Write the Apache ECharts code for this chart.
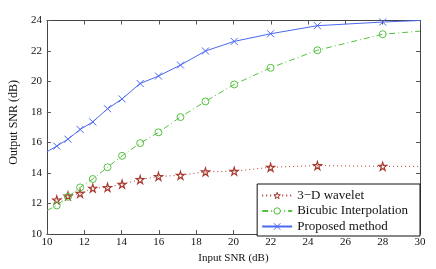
<!DOCTYPE html>
<html><head><meta charset="utf-8">
<script src="https://cdn.jsdelivr.net/npm/echarts@6/dist/echarts.min.js"></script>
<style>html,body{margin:0;padding:0;background:#fff}#c{width:436px;height:269px}</style>
</head><body><div id="c"></div>
<script>
const inputSNR = [10.53, 11.13, 11.78, 12.46, 13.25, 14.03, 15.0, 15.98, 17.16, 18.5, 20.04, 21.99, 24.5, 28.0];
const wavelet = [12.24, 12.5, 12.67, 13.01, 13.06, 13.27, 13.57, 13.78, 13.85, 14.08, 14.12, 14.38, 14.49, 14.44];
const bicubic = [11.88, 12.44, 13.06, 13.61, 14.38, 15.13, 15.96, 16.67, 17.67, 18.7, 19.81, 20.9, 22.05, 23.1];
const proposed = [15.77, 16.22, 16.86, 17.35, 18.22, 18.86, 19.87, 20.36, 21.08, 22.0, 22.63, 23.13, 23.66, 23.9];
// curve ends (no marker) at x = 10 and x = 30
const waveletEnds = [null, 14.44];
const bicubicEnds = [11.54, 23.3];
const proposedEnds = [15.4, 24.0];
const xTicks = [10, 30, 2];
const yTicks = [10, 24, 2];
const seriesNames = ['3\u2212D wavelet', 'Bicubic Interpolation', 'Proposed method'];

function build(ys, ends) {
  const d = [];
  if (ends[0] !== null) d.push({ value: [xTicks[0], ends[0]], symbol: 'none' });
  inputSNR.forEach((x, i) => d.push([x, ys[i]]));
  if (ends[1] !== null) d.push({ value: [xTicks[1], ends[1]], symbol: 'none' });
  return d;
}

const FONT = 'Liberation Serif';
const RED = '#a83a30', GREEN = '#55c040', BLUE = '#4a68f0';
const COLORS = [RED, GREEN, BLUE];
const starPath = 'path://M50,0L61,35L98,35L68,57L79,91L50,70L21,91L32,57L2,35L39,35Z';
const xPath = 'path://M0,0L10,10M10,0L0,10';

const chart = echarts.init(document.getElementById('c'), null, { renderer: 'canvas' });
const axisCommon = {
  type: 'value',
  splitLine: { show: false },
  axisLine: { show: true, lineStyle: { color: '#444', width: 1 } },
  axisTick: { show: true, inside: true, length: 4, lineStyle: { color: '#555' } },
};
chart.setOption({
  animation: false,
  textStyle: { fontFamily: FONT },
  grid: { left: 41, right: 16, top: 20.5, bottom: 30, show: false },
  xAxis: [
    Object.assign({}, axisCommon, {
      min: xTicks[0], max: xTicks[1], interval: xTicks[2],
      name: 'Input SNR (dB)', nameLocation: 'middle', nameGap: 14,
      nameTextStyle: { fontFamily: FONT, fontSize: 11, color: '#111' },
      axisLabel: { fontFamily: FONT, fontSize: 11, color: '#111', margin: 3 },
    }),
    Object.assign({}, axisCommon, {
      position: 'top', min: xTicks[0], max: xTicks[1], interval: xTicks[2],
      axisLabel: { show: false },
    }),
  ],
  yAxis: [
    Object.assign({}, axisCommon, {
      min: yTicks[0], max: yTicks[1], interval: yTicks[2],
      name: 'Output SNR (dB)', nameLocation: 'middle', nameGap: 16,
      nameTextStyle: { fontFamily: FONT, fontSize: 12, color: '#111', padding: [0, 0, 0, 10] },
      axisLabel: { fontFamily: FONT, fontSize: 11, color: '#111', margin: 5 },
    }),
    Object.assign({}, axisCommon, {
      position: 'right', min: yTicks[0], max: yTicks[1], interval: yTicks[2],
      axisLabel: { show: false },
    }),
  ],
  legend: {
    orient: 'vertical', right: 16, top: 184,
    backgroundColor: '#fff', borderColor: '#111', borderWidth: 1,
    padding: [5, 12, 3, 4], itemWidth: 30, itemHeight: 8, itemGap: 2.5,
    textStyle: { fontFamily: FONT, fontSize: 13, color: '#111' },
    data: seriesNames.map((n, i) => ({
      name: n,
      itemStyle: { color: '#fff', borderColor: COLORS[i], borderWidth: 1 },
    })),
  },
  series: [
    {
      name: seriesNames[0], type: 'line', data: build(wavelet, waveletEnds),
      symbol: starPath, symbolSize: 8, showAllSymbol: true,
      lineStyle: { color: RED, width: 1, type: [1, 3] },
      itemStyle: { color: 'none', borderColor: RED, borderWidth: 1.2 },
    },
    {
      name: seriesNames[1], type: 'line', data: build(bicubic, bicubicEnds),
      symbol: 'circle', symbolSize: 7, showAllSymbol: true,
      lineStyle: { color: GREEN, width: 1, type: [6, 3, 1, 3] },
      itemStyle: { color: 'none', borderColor: GREEN, borderWidth: 1 },
    },
    {
      name: seriesNames[2], type: 'line', data: build(proposed, proposedEnds),
      symbol: xPath, symbolSize: 7, showAllSymbol: true,
      lineStyle: { color: BLUE, width: 1 },
      itemStyle: { color: 'none', borderColor: BLUE, borderWidth: 1 },
    },
  ],
});
</script></body></html>
